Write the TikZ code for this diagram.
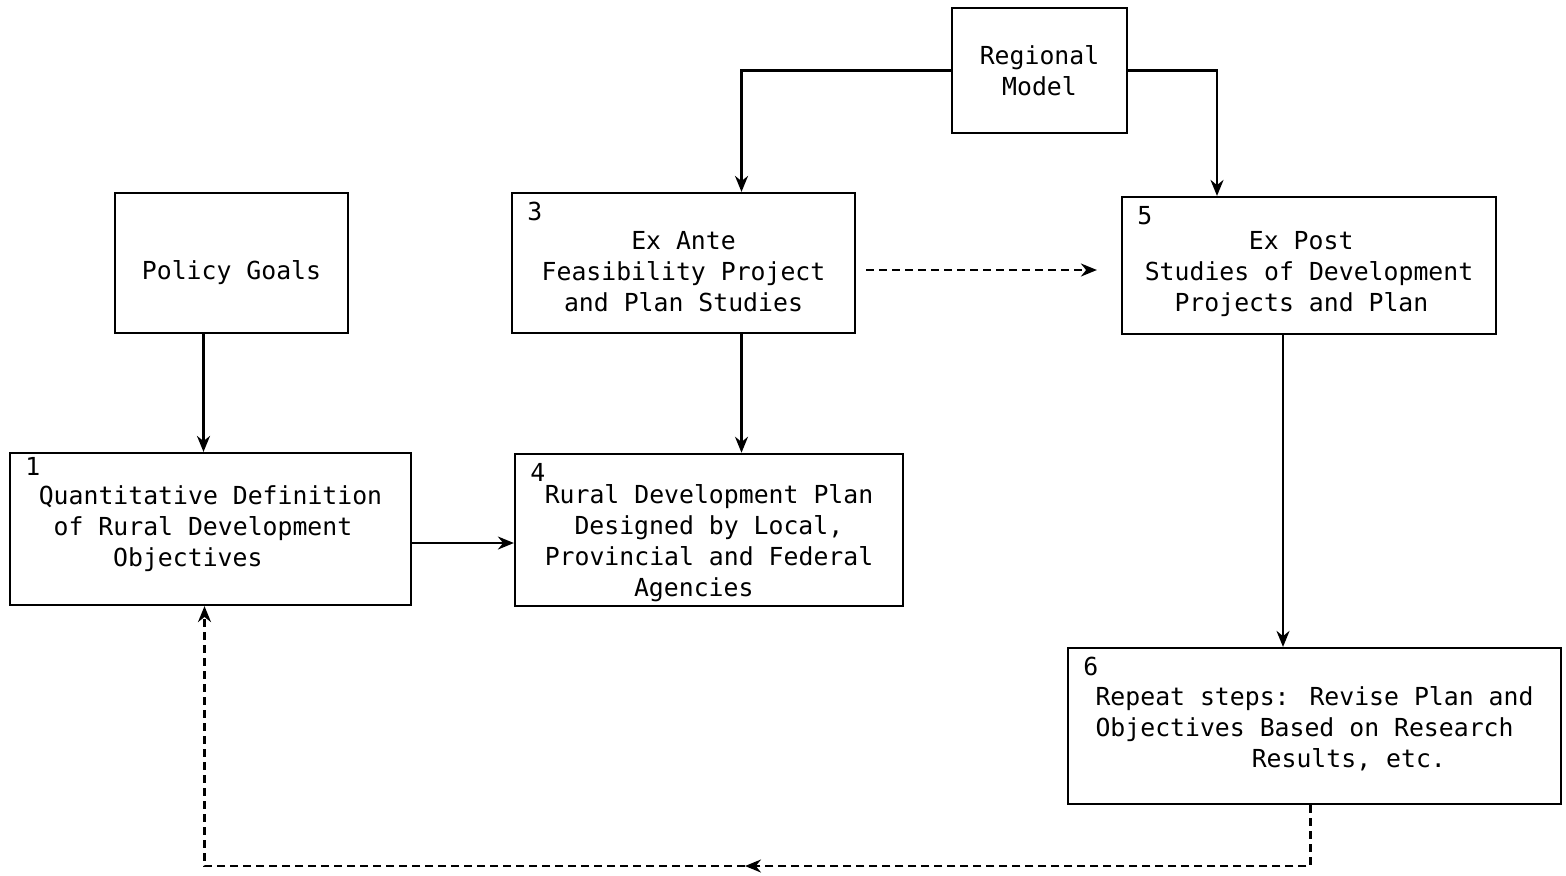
\documentclass[tikz,border=0pt]{standalone}
\usepackage{xcolor}
\usepackage{fontspec}
\newfontfamily\typefont{DejaVu Sans Mono}
\usepackage{tikz}
\usetikzlibrary{arrows.meta,positioning,shapes}

\begin{document}
\begin{tikzpicture}[x=0.5pt, y=-0.5pt,
    every node/.style={font=\typefont\fontsize{12.4}{15.5}\selectfont},
    stepbox/.style={draw, line width=1.1pt, align=center, inner sep=2pt},
    num/.style={anchor=north west, inner sep=0pt, xshift=8pt, yshift=-5pt},
    arr/.style={line width=1.1pt, -{Stealth[length=8pt,width=6.5pt]}},
    dasharr/.style={arr, dash pattern=on 4pt off 2.5pt}]

\useasboundingbox (0,0) rectangle (1566,875);

\node[stepbox, minimum width=87.5pt, minimum height=62.5pt] (model) at (1039.5,70.5) {Regional\\Model};
\node[stepbox, minimum width=116.5pt, minimum height=70pt] (goals) at (231.5,263) {\mbox{}\\[3.9pt]Policy Goals};
\node[stepbox, minimum width=171.5pt, minimum height=70pt, label={[num]north west:3}] (exante) at (683.5,263)
    {\mbox{}\\[1.9pt]Ex Ante\\Feasibility Project\\and Plan Studies};
\node[stepbox, minimum width=187pt, minimum height=68.5pt, align=left, label={[num]north west:5}] (expost) at (1309,265.5)
    {\mbox{}\\[1.9pt]\hspace*{4.2em}Ex Post\\Studies of Development\\\hspace*{1.2em}Projects and Plan\hspace*{0.7em}};
\node[stepbox, minimum width=200.5pt, minimum height=76pt, align=left, label={[num,yshift=2.5pt]north west:1}] (quant) at (210.5,529)
    {Quantitative Definition\\\hspace*{0.6em}of Rural Development\\\hspace*{3em}Objectives};
\node[stepbox, minimum width=194pt, minimum height=75pt, align=left, label={[num]north west:4}] (plan) at (709,530)
    {\mbox{}\\[7.5pt]Rural Development Plan\\\hspace*{1.2em}Designed by Local,\\Provincial and Federal\\\hspace*{3.6em}Agencies};
\node[stepbox, minimum width=246.5pt, minimum height=78pt, align=left, label={[num]north west:6}] (repeat) at (1314.5,726)
    {\mbox{}\\[-3pt]Repeat steps: Revise Plan and\\Objectives Based on Research\\\hspace*{6.3em}Results, etc.};

\coordinate (back) at (745,866);

\draw[arr] (model.west) -| ([xshift=29pt]exante.north);
\draw[arr] (model.east) -| ([xshift=-46pt]expost.north);
\draw[arr] ([xshift=-14pt]goals.south) -- ([xshift=-14pt]goals.south |- quant.north);
\draw[arr] ([xshift=29pt]exante.south) -- ([xshift=29pt]exante.south |- plan.north);
\draw[arr] ([yshift=-7pt]quant.east) -- ([yshift=-7pt]quant.east -| plan.west);
\draw[dasharr, shorten <=5pt, shorten >=12pt] ([yshift=-3.5pt]exante.east) -- ([yshift=-3.5pt]exante.east -| expost.west);
\draw[arr] ([xshift=-13pt]expost.south) -- ([xshift=-13pt]expost.south |- repeat.north);
\draw[dasharr] ([xshift=-2pt]repeat.south) |- (back);
\draw[dasharr] (back) -| ([xshift=-3pt]quant.south);
\end{tikzpicture}
\end{document}
